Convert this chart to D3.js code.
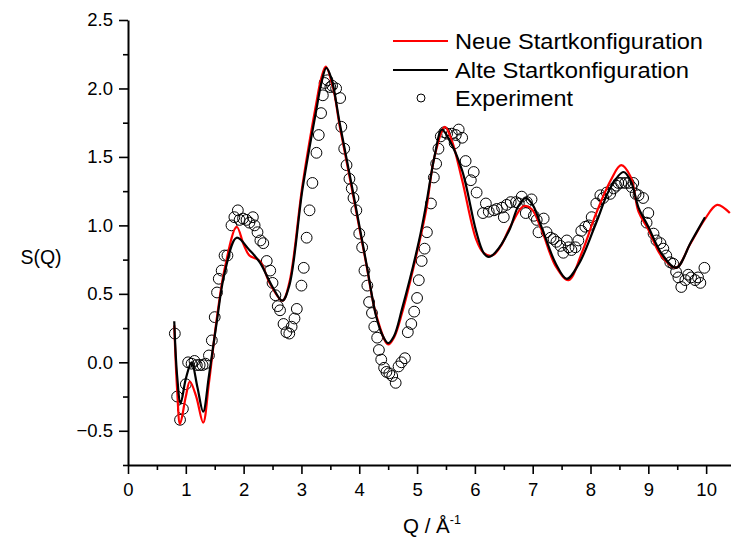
<!DOCTYPE html>
<html>
<head>
<meta charset="utf-8">
<script src="https://cdn.jsdelivr.net/npm/d3@7"></script>
<style>
  body { margin: 0; background: #fff; }
  text { font-family: "Liberation Sans", Arial, sans-serif; fill: #000; }
</style>
</head>
<body>
<svg id="chart"></svg>
<script>
// Alte Startkonfiguration (schwarz)
const alteQ = [0.8, 0.85, 0.91, 1.0, 1.1, 1.2, 1.3, 1.4, 1.53, 1.67, 1.88, 2.1, 2.28, 2.5, 2.67, 2.79, 3.02, 3.26, 3.35, 3.43, 3.52, 3.66, 3.88, 4.12, 4.29, 4.4, 4.5, 4.6, 4.74, 5.03, 5.16, 5.3, 5.43, 5.55, 5.78, 6.02, 6.15, 6.24, 6.35, 6.59, 6.75, 6.88, 7.0, 7.16, 7.4, 7.59, 7.8, 8.09, 8.35, 8.57, 8.7, 8.83, 9.0, 9.22, 9.48, 9.74, 9.98];
const alteS = [0.3, -0.1, -0.3, -0.12, 0.0, -0.18, -0.36, -0.1, 0.28, 0.65, 0.91, 0.82, 0.73, 0.55, 0.45, 0.56, 1.27, 1.85, 2.05, 2.15, 2.07, 1.75, 1.27, 0.73, 0.34, 0.2, 0.14, 0.19, 0.39, 0.88, 1.16, 1.5, 1.7, 1.63, 1.4, 0.96, 0.8, 0.77, 0.8, 0.96, 1.14, 1.2, 1.15, 0.98, 0.72, 0.61, 0.72, 1.01, 1.28, 1.39, 1.32, 1.13, 0.99, 0.8, 0.69, 0.88, 1.06];

// Neue Startkonfiguration (rot)
const neueQ = [0.8, 0.85, 0.9, 1.0, 1.07, 1.18, 1.3, 1.4, 1.53, 1.67, 1.88, 2.0, 2.1, 2.28, 2.45, 2.67, 2.79, 3.02, 3.26, 3.34, 3.42, 3.55, 3.66, 3.88, 4.12, 4.29, 4.5, 4.6, 4.74, 5.03, 5.16, 5.3, 5.48, 5.6, 5.78, 6.02, 6.15, 6.3, 6.45, 6.6, 6.84, 6.98, 7.16, 7.4, 7.62, 7.85, 8.09, 8.35, 8.53, 8.7, 8.83, 9.0, 9.22, 9.48, 9.72, 9.97, 10.19, 10.41];
const neueS = [0.27, -0.2, -0.45, -0.25, -0.14, -0.25, -0.44, -0.15, 0.3, 0.68, 0.99, 0.86, 0.78, 0.74, 0.58, 0.45, 0.58, 1.3, 1.9, 2.07, 2.16, 2.0, 1.73, 1.25, 0.72, 0.35, 0.13, 0.18, 0.36, 0.86, 1.12, 1.5, 1.72, 1.62, 1.33, 0.9, 0.8, 0.78, 0.85, 0.98, 1.14, 1.12, 0.96, 0.7, 0.6, 0.8, 1.08, 1.33, 1.44, 1.35, 1.1, 0.97, 0.78, 0.69, 0.86, 1.04, 1.15, 1.09];

// Experiment
const expQ = [0.81, 0.85, 0.90, 0.95, 1.00, 1.04, 1.10, 1.15, 1.19, 1.24, 1.29, 1.34, 1.40, 1.45, 1.50, 1.54, 1.57, 1.62, 1.67, 1.72, 1.79, 1.84, 1.90, 1.93, 1.99, 2.05, 2.10, 2.16, 2.19, 2.24, 2.29, 2.34, 2.40, 2.46, 2.50, 2.55, 2.59, 2.63, 2.69, 2.74, 2.79, 2.83, 2.88, 2.92, 3.00, 3.04, 3.09, 3.14, 3.19, 3.26, 3.30, 3.34, 3.37, 3.40, 3.45, 3.50, 3.53, 3.60, 3.67, 3.69, 3.74, 3.78, 3.83, 3.87, 3.90, 3.95, 4.00, 4.05, 4.09, 4.14, 4.17, 4.22, 4.26, 4.31, 4.34, 4.38, 4.43, 4.47, 4.52, 4.57, 4.63, 4.68, 4.73, 4.79, 4.84, 4.90, 4.95, 5.00, 5.03, 5.08, 5.13, 5.17, 5.24, 5.29, 5.33, 5.37, 5.41, 5.47, 5.52, 5.60, 5.65, 5.67, 5.72, 5.78, 5.84, 5.93, 5.98, 6.03, 6.14, 6.19, 6.24, 6.33, 6.38, 6.47, 6.50, 6.55, 6.62, 6.71, 6.76, 6.81, 6.88, 6.90, 6.98, 7.02, 7.07, 7.10, 7.19, 7.24, 7.31, 7.36, 7.41, 7.48, 7.53, 7.59, 7.62, 7.67, 7.74, 7.79, 7.84, 7.91, 7.97, 8.02, 8.10, 8.17, 8.22, 8.28, 8.34, 8.40, 8.45, 8.48, 8.53, 8.60, 8.66, 8.71, 8.74, 8.78, 8.83, 8.91, 8.97, 9.00, 9.09, 9.14, 9.21, 9.26, 9.31, 9.38, 9.43, 9.48, 9.52, 9.57, 9.64, 9.69, 9.74, 9.81, 9.86, 9.90, 9.97];
const expS = [0.21, -0.25, -0.42, -0.34, -0.16, 0.00, -0.01, 0.01, -0.02, -0.02, -0.02, -0.01, 0.05, 0.16, 0.33, 0.51, 0.61, 0.67, 0.78, 0.78, 1.00, 1.06, 1.11, 1.04, 1.05, 1.04, 1.02, 1.06, 1.00, 0.95, 0.89, 0.87, 0.74, 0.67, 0.58, 0.49, 0.41, 0.38, 0.28, 0.22, 0.21, 0.26, 0.32, 0.39, 0.56, 0.69, 0.91, 1.11, 1.31, 1.53, 1.66, 1.82, 1.95, 2.04, 2.06, 2.01, 2.02, 2.00, 1.93, 1.72, 1.56, 1.44, 1.34, 1.27, 1.20, 1.11, 0.94, 0.84, 0.67, 0.56, 0.44, 0.36, 0.26, 0.18, 0.09, 0.02, -0.04, -0.07, -0.08, -0.10, -0.15, -0.03, 0.00, 0.03, 0.22, 0.28, 0.37, 0.47, 0.60, 0.74, 0.83, 0.95, 1.16, 1.35, 1.45, 1.56, 1.65, 1.68, 1.67, 1.67, 1.60, 1.66, 1.70, 1.64, 1.47, 1.33, 1.39, 1.24, 1.09, 1.16, 1.10, 1.11, 1.12, 1.13, 1.06, 1.15, 1.17, 1.17, 1.16, 1.21, 1.09, 1.17, 1.19, 1.07, 1.04, 0.95, 1.05, 0.95, 0.91, 0.90, 0.88, 0.85, 0.80, 0.89, 0.84, 0.82, 0.84, 0.89, 0.96, 0.99, 1.00, 1.06, 1.16, 1.22, 1.20, 1.24, 1.23, 1.27, 1.29, 1.31, 1.31, 1.31, 1.31, 1.28, 1.31, 1.23, 1.22, 1.20, 1.02, 1.09, 0.94, 0.89, 0.87, 0.83, 0.78, 0.73, 0.72, 0.66, 0.62, 0.55, 0.60, 0.64, 0.62, 0.60, 0.62, 0.58, 0.69];

const xMajor = [0, 1, 2, 3, 4, 5, 6, 7, 8, 9, 10];
const yMajor = [-0.5, 0.0, 0.5, 1.0, 1.5, 2.0, 2.5];

const legendLabels = ["Neue Startkonfiguration", "Alte Startkonfiguration", "Experiment"];
const legendWidths = [248, 234, 118];

const W = 731, H = 541;
const svg = d3.select("#chart").attr("width", W).attr("height", H);

const x = d3.scaleLinear().domain([0, 10.43]).range([128, 731]);
const y = d3.scaleLinear().domain([-0.75, 2.5]).range([465, 20]);

// Zwischenstriche
const xMinor = d3.range(0.5, 10.5, 1);
const yMinor = d3.range(-0.75, 2.5, 0.5);

// x-Achse
const gx = svg.append("g").attr("transform", "translate(0," + y(-0.75) + ")");
gx.call(d3.axisBottom(x).tickValues(xMajor).tickFormat(d3.format("d")).tickSize(9).tickSizeOuter(0).tickPadding(9));
gx.append("g").call(d3.axisBottom(x).tickValues(xMinor).tickSize(5).tickFormat("")).select(".domain").remove();

// y-Achse
const gy = svg.append("g").attr("transform", "translate(" + x(0) + ",0)");
gy.call(d3.axisLeft(y).tickValues(yMajor).tickFormat(d3.format(".1f")).tickSize(9).tickSizeOuter(0).tickPadding(6));
gy.append("g").call(d3.axisLeft(y).tickValues(yMinor).tickSize(5).tickFormat("")).select(".domain").remove();

svg.selectAll(".domain").attr("stroke", "#000").attr("stroke-width", 2);
svg.selectAll(".tick line").attr("stroke", "#000").attr("stroke-width", 1.6);
svg.selectAll(".tick text").attr("font-size", 18.5).attr("font-family", "Liberation Sans, Arial, sans-serif").attr("fill", "#000");

// Achsentitel
svg.append("text").attr("x", 41).attr("y", 264).attr("text-anchor", "middle").attr("font-size", 19.5).text("S(Q)");
const xt = svg.append("text").attr("x", 432).attr("y", 533).attr("text-anchor", "middle").attr("font-size", 20.5);
xt.append("tspan").text("Q / Å");
xt.append("tspan").attr("font-size", 12.5).attr("dy", -9).text("-1");

// Linien
const line = d3.line()
  .x(d => x(d[0]))
  .y(d => y(d[1]))
  .curve(d3.curveCatmullRom.alpha(0.5));

const neue = neueQ.map((q, i) => [q, neueS[i]]);
const alte = alteQ.map((q, i) => [q, alteS[i]]);
const expt = expQ.map((q, i) => [q, expS[i]]);

svg.append("g").selectAll("circle").data(expt).join("circle")
  .attr("cx", d => x(d[0]))
  .attr("cy", d => y(d[1]))
  .attr("r", 5.4)
  .attr("fill", "none")
  .attr("stroke", "#000")
  .attr("stroke-width", 1);

svg.append("path").datum(neue).attr("d", line)
  .attr("fill", "none").attr("stroke", "#ff0000").attr("stroke-width", 2.2).attr("stroke-linejoin", "round");
svg.append("path").datum(alte).attr("d", line)
  .attr("fill", "none").attr("stroke", "#000").attr("stroke-width", 2.2).attr("stroke-linejoin", "round");

// Legende
const lg = svg.append("g");
const legendY = [41, 70, 98];
lg.append("line").attr("x1", 393).attr("x2", 448).attr("y1", legendY[0]).attr("y2", legendY[0]).attr("stroke", "#ff0000").attr("stroke-width", 2);
lg.append("line").attr("x1", 393).attr("x2", 448).attr("y1", legendY[1]).attr("y2", legendY[1]).attr("stroke", "#000").attr("stroke-width", 2);
lg.append("circle").attr("cx", 421).attr("cy", legendY[2]).attr("r", 4).attr("fill", "none").attr("stroke", "#000").attr("stroke-width", 1);
lg.selectAll("text").data(legendLabels).join("text")
  .attr("x", 455)
  .attr("y", (d, i) => legendY[i] + 8)
  .attr("font-size", 22)
  .attr("textLength", (d, i) => legendWidths[i])
  .attr("lengthAdjust", "spacingAndGlyphs")
  .text(d => d);
</script>
</body>
</html>
